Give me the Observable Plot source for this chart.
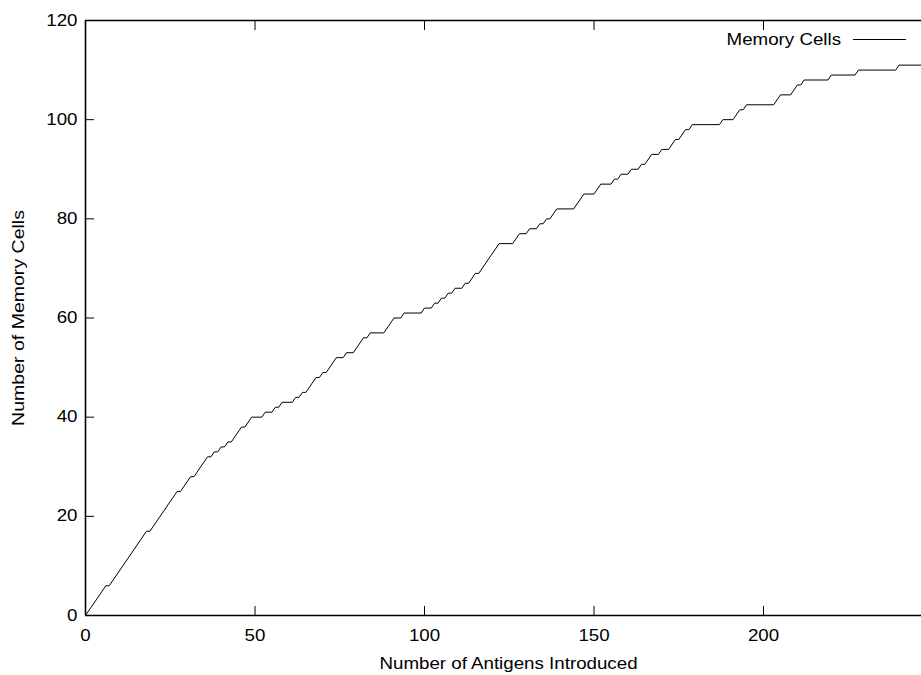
<!DOCTYPE html>
<html>
<head>
<meta charset="utf-8">
<script src="https://cdn.jsdelivr.net/npm/d3@7"></script>
<script src="https://cdn.jsdelivr.net/npm/@observablehq/plot@0.6"></script>
<style>
  html, body { margin: 0; padding: 0; background: #fff; }
</style>
</head>
<body>
<div id="chart"></div>
<script>
// Vertices of the cumulative memory-cell curve (antigens introduced, memory cells)
const antigens = [0, 6, 7, 18, 19, 27, 28, 31, 32, 36, 37, 38, 39, 40, 41, 42, 43, 46, 47, 49, 52, 53, 55, 56, 57, 58, 61, 62, 63, 64, 65, 68, 69, 70, 71, 74, 76, 77, 79, 82, 83, 84, 88, 91, 93, 94, 99, 100, 102, 103, 104, 105, 106, 107, 108, 109, 111, 112, 113, 115, 116, 122, 126, 128, 130, 131, 133, 134, 135, 136, 137, 139, 144, 147, 150, 152, 155, 156, 157, 158, 160, 161, 163, 164, 165, 167, 169, 170, 172, 174, 175, 177, 178, 179, 187, 188, 191, 193, 194, 195, 203, 205, 208, 210, 211, 212, 219, 220, 227, 228, 239, 240, 250];
const memoryCells = [0, 6, 6, 17, 17, 25, 25, 28, 28, 32, 32, 33, 33, 34, 34, 35, 35, 38, 38, 40, 40, 41, 41, 42, 42, 43, 43, 44, 44, 45, 45, 48, 48, 49, 49, 52, 52, 53, 53, 56, 56, 57, 57, 60, 60, 61, 61, 62, 62, 63, 63, 64, 64, 65, 65, 66, 66, 67, 67, 69, 69, 75, 75, 77, 77, 78, 78, 79, 79, 80, 80, 82, 82, 85, 85, 87, 87, 88, 88, 89, 89, 90, 90, 91, 91, 93, 93, 94, 94, 96, 96, 98, 98, 99, 99, 100, 100, 102, 102, 103, 103, 105, 105, 107, 107, 108, 108, 109, 109, 110, 110, 111, 111];
const xTickMarks = [0, 50, 100, 150, 200, 250];
const xTickLabels = [0, 50, 100, 150, 200];
const yTicks = [0, 20, 40, 60, 80, 100, 120];
const seriesName = "Memory Cells";
const xLabel = "Number of Antigens Introduced";
const yLabel = "Number of Memory Cells";

const data = antigens.map((x, i) => ({x, y: memoryCells[i]}));

function legend(index, scales, values, dimensions) {
  const right = dimensions.width - dimensions.marginRight;
  const top = dimensions.marginTop;
  const g = d3.create("svg:g");
  g.append("text")
    .attr("x", right - 80).attr("y", top + 20)
    .attr("dy", "0.32em")
    .attr("text-anchor", "end")
    .attr("font-size", 16).attr("fill", "black")
    .text(seriesName);
  g.append("line")
    .attr("x1", right - 68).attr("x2", right - 15)
    .attr("y1", top + 19.5).attr("y2", top + 19.5)
    .attr("stroke", "black").attr("stroke-width", 1);
  return g.node();
}

const chart = Plot.plot({
  width: 921,
  height: 675,
  marginLeft: 85,
  marginRight: 0,
  marginTop: 20,
  marginBottom: 60,
  style: {fontFamily: "'Liberation Sans', Arial, Helvetica, sans-serif", fontSize: "16px", background: "white", color: "black", overflow: "hidden"},
  x: {domain: [0, 250], range: [85, 932.5]},
  y: {domain: [0, 120]},
  marks: [
    Plot.axisX({ticks: xTickLabels, tickSize: 0, tickPadding: 14, label: null}),
    Plot.axisX({ticks: xTickMarks, tickSize: -9, text: null, label: null}),
    Plot.axisX({ticks: xTickMarks, anchor: "top", tickSize: -9, text: null, label: null}),
    Plot.axisY({ticks: yTicks, tickSize: 0, tickPadding: 8, label: null}),
    Plot.axisY({ticks: yTicks, tickSize: -9, text: null, label: null}),
    Plot.ruleY([0], {stroke: "black", strokeWidth: 1.6}),
    Plot.ruleY([120], {stroke: "black", strokeWidth: 1.6}),
    Plot.ruleX([0], {stroke: "black", strokeWidth: 1.6}),
    Plot.line(data, {x: "x", y: "y", stroke: "black", strokeWidth: 1}),
    Plot.text([xLabel], {frameAnchor: "bottom", dx: 5, dy: 48, lineAnchor: "middle", textAnchor: "middle", fontSize: 16}),
    Plot.text([yLabel], {frameAnchor: "left", dx: -67, rotate: -90, lineAnchor: "middle", textAnchor: "middle", fontSize: 16, className: "ylab"}),
    legend
  ]
});
document.getElementById("chart").appendChild(chart);

// The reference font is drawn wider than Liberation Sans: stretch each text along its baseline.
chart.querySelectorAll("text").forEach(t => {
  if (t.querySelector("tspan")) return;
  const len = t.getComputedTextLength();
  if (!len) return;
  const isY = t.closest(".ylab") !== null;
  t.setAttribute("textLength", (len * (isY ? 1.22 : 1.17)).toFixed(1));
  t.setAttribute("lengthAdjust", "spacingAndGlyphs");
});
</script>
</body>
</html>
